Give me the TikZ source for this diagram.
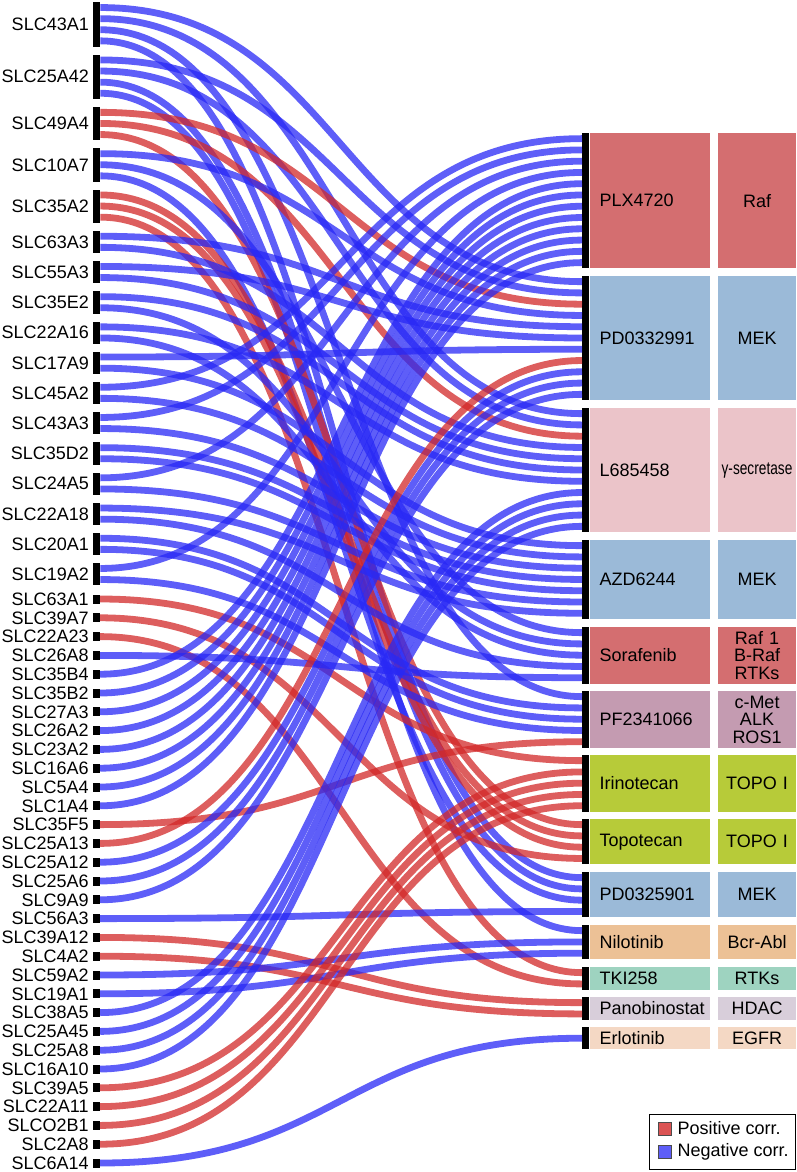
\documentclass[tikz,border=0pt]{standalone}
\usepackage{fontspec}
\usepackage{graphicx}
\setmainfont{Liberation Sans}
\usetikzlibrary{positioning}
\definecolor{rafred}{RGB}{212,110,112}
\definecolor{mekblue}{RGB}{155,186,216}
\definecolor{secpink}{RGB}{235,196,201}
\definecolor{metpurple}{RGB}{196,155,177}
\definecolor{topogreen}{RGB}{183,203,57}
\definecolor{ablorange}{RGB}{236,193,150}
\definecolor{rtkteal}{RGB}{158,211,192}
\definecolor{hdacgray}{RGB}{216,206,218}
\definecolor{egfrpeach}{RGB}{244,216,196}
\definecolor{posred}{RGB}{210,40,40}
\definecolor{negblue}{RGB}{40,40,245}
\tikzset{
  gbar/.style={fill=black, inner sep=0pt, minimum width=7pt, anchor=north west},
  sbar/.style={fill=black, inner sep=0pt, minimum width=7pt, minimum height=9pt},
  glab/.style={inner sep=0pt, font=\fontsize{18}{18}\selectfont},
  dbar/.style={fill=black, inner sep=0pt, minimum width=7pt, anchor=north west},
  dbox/.style={inner xsep=10pt, inner ysep=0pt, text width=100pt, align=left, font=\fontsize{18}{18}\selectfont},
  tbox/.style={inner xsep=1pt, inner ysep=0pt, text width=76pt, align=center, font=\fontsize{18}{17.5}\selectfont},
  link/.style={line width=6.8pt, out=0, in=180, distance=241pt},
  neglink/.style={link, draw=negblue, draw opacity=0.75},
  poslink/.style={link, draw=posred, draw opacity=0.75},
  keysq/.style={draw=black!70, line width=0.8pt, minimum size=13pt, inner sep=0pt}
}
\begin{document}
\begin{tikzpicture}[x=1pt, y=-1pt, label distance=4pt]
\useasboundingbox (0,0) rectangle (797,1172);

\node[gbar, minimum height=44.4pt, label={[glab]left:SLC43A1}] (slc43a1) at (93,2) {};
\node[gbar, minimum height=44.4pt, label={[glab]left:SLC25A42}] (slc25a42) at (93,54.4) {};
\node[gbar, minimum height=33.3pt, label={[glab]left:SLC49A4}] (slc49a4) at (93,106.8) {};
\node[gbar, minimum height=33.3pt, label={[glab]left:SLC10A7}] (slc10a7) at (93,148.1) {};
\node[gbar, minimum height=33.3pt, label={[glab]left:SLC35A2}] (slc35a2) at (93,189.4) {};
\node[gbar, minimum height=22.2pt, label={[glab]left:SLC63A3}] (slc63a3) at (93,230.7) {};
\node[gbar, minimum height=22.2pt, label={[glab]left:SLC55A3}] (slc55a3) at (93,260.9) {};
\node[gbar, minimum height=22.2pt, label={[glab]left:SLC35E2}] (slc35e2) at (93,291.1) {};
\node[gbar, minimum height=22.2pt, label={[glab]left:SLC22A16}] (slc22a16) at (93,321.3) {};
\node[gbar, minimum height=22.2pt, label={[glab]left:SLC17A9}] (slc17a9) at (93,351.5) {};
\node[gbar, minimum height=22.2pt, label={[glab]left:SLC45A2}] (slc45a2) at (93,381.7) {};
\node[gbar, minimum height=22.2pt, label={[glab]left:SLC43A3}] (slc43a3) at (93,411.9) {};
\node[gbar, minimum height=22.2pt, label={[glab]left:SLC35D2}] (slc35d2) at (93,442.1) {};
\node[gbar, minimum height=22.2pt, label={[glab]left:SLC24A5}] (slc24a5) at (93,472.3) {};
\node[gbar, minimum height=22.2pt, label={[glab]left:SLC22A18}] (slc22a18) at (93,502.5) {};
\node[gbar, minimum height=22.2pt, label={[glab]left:SLC20A1}] (slc20a1) at (93,532.7) {};
\node[gbar, minimum height=22.2pt, label={[glab]left:SLC19A2}] (slc19a2) at (93,562.9) {};

\node[sbar, label={[glab]left:SLC63A1}] (slc63a1) at (96.5,599.0) {};
\node[sbar, label={[glab]left:SLC39A7}] (slc39a7) at (96.5,617.8) {};
\node[sbar, label={[glab]left:SLC22A23}] (slc22a23) at (96.5,636.6) {};
\node[sbar, label={[glab]left:SLC26A8}] (slc26a8) at (96.5,655.4) {};
\node[sbar, label={[glab]left:SLC35B4}] (slc35b4) at (96.5,674.2) {};
\node[sbar, label={[glab]left:SLC35B2}] (slc35b2) at (96.5,693.0) {};
\node[sbar, label={[glab]left:SLC27A3}] (slc27a3) at (96.5,711.8) {};
\node[sbar, label={[glab]left:SLC26A2}] (slc26a2) at (96.5,730.6) {};
\node[sbar, label={[glab]left:SLC23A2}] (slc23a2) at (96.5,749.4) {};
\node[sbar, label={[glab]left:SLC16A6}] (slc16a6) at (96.5,768.2) {};
\node[sbar, label={[glab]left:SLC5A4}] (slc5a4) at (96.5,787.0) {};
\node[sbar, label={[glab]left:SLC1A4}] (slc1a4) at (96.5,805.8) {};
\node[sbar, label={[glab]left:SLC35F5}] (slc35f5) at (96.5,824.6) {};
\node[sbar, label={[glab]left:SLC25A13}] (slc25a13) at (96.5,843.4) {};
\node[sbar, label={[glab]left:SLC25A12}] (slc25a12) at (96.5,862.2) {};
\node[sbar, label={[glab]left:SLC25A6}] (slc25a6) at (96.5,881.0) {};
\node[sbar, label={[glab]left:SLC9A9}] (slc9a9) at (96.5,899.8) {};
\node[sbar, label={[glab]left:SLC56A3}] (slc56a3) at (96.5,918.6) {};
\node[sbar, label={[glab]left:SLC39A12}] (slc39a12) at (96.5,937.4) {};
\node[sbar, label={[glab]left:SLC4A2}] (slc4a2) at (96.5,956.2) {};
\node[sbar, label={[glab]left:SLC59A2}] (slc59a2) at (96.5,975.0) {};
\node[sbar, label={[glab]left:SLC19A1}] (slc19a1) at (96.5,993.8) {};
\node[sbar, label={[glab]left:SLC38A5}] (slc38a5) at (96.5,1012.6) {};
\node[sbar, label={[glab]left:SLC25A45}] (slc25a45) at (96.5,1031.4) {};
\node[sbar, label={[glab]left:SLC25A8}] (slc25a8) at (96.5,1050.2) {};
\node[sbar, label={[glab]left:SLC16A10}] (slc16a10) at (96.5,1069.0) {};
\node[sbar, label={[glab]left:SLC39A5}] (slc39a5) at (96.5,1087.8) {};
\node[sbar, label={[glab]left:SLC22A11}] (slc22a11) at (96.5,1106.6) {};
\node[sbar, label={[glab]left:SLCO2B1}] (slco2b1) at (96.5,1125.4) {};
\node[sbar, label={[glab]left:SLC2A8}] (slc2a8) at (96.5,1144.2) {};
\node[sbar, label={[glab]left:SLC6A14}] (slc6a14) at (96.5,1163.0) {};

\node[dbar, minimum height=135.2pt] (plx) at (582,133) {};
\node[dbox, fill=rafred, minimum height=135.2pt, right=0pt of plx] (plxbox) {PLX4720};
\node[tbox, fill=rafred, minimum height=135.2pt, right=8pt of plxbox] (plxtgt) {Raf};
\node[dbar, minimum height=124pt] (pd3) at (582,276) {};
\node[dbox, fill=mekblue, minimum height=124pt, right=0pt of pd3] (pd3box) {PD0332991};
\node[tbox, fill=mekblue, minimum height=124pt, right=8pt of pd3box] (pd3tgt) {MEK};
\node[dbar, minimum height=124pt] (lsec) at (582,408) {};
\node[dbox, fill=secpink, minimum height=124pt, right=0pt of lsec] (lsecbox) {L685458};
\node[tbox, fill=secpink, minimum height=124pt, right=8pt of lsecbox] (lsectgt) {\scalebox{0.76}[1]{γ-secretase}};
\node[dbar, minimum height=78.9pt] (azd) at (582,540) {};
\node[dbox, fill=mekblue, minimum height=78.9pt, right=0pt of azd] (azdbox) {AZD6244};
\node[tbox, fill=mekblue, minimum height=78.9pt, right=8pt of azdbox] (azdtgt) {MEK};
\node[dbar, minimum height=56.4pt] (sora) at (582,627) {};
\node[dbox, fill=rafred, minimum height=56.4pt, right=0pt of sora] (sorabox) {Sorafenib};
\node[tbox, fill=rafred, minimum height=56.4pt, right=8pt of sorabox] (soratgt) {Raf 1\\B-Raf\\RTKs};
\node[dbar, minimum height=56.4pt] (pfz) at (582,691) {};
\node[dbox, fill=metpurple, minimum height=56.4pt, right=0pt of pfz] (pfzbox) {PF2341066};
\node[tbox, fill=metpurple, minimum height=56.4pt, right=8pt of pfzbox] (pfztgt) {c-Met\\ALK\\ROS1};
\node[dbar, minimum height=56.4pt] (irino) at (582,755) {};
\node[dbox, fill=topogreen, minimum height=56.4pt, right=0pt of irino] (irinobox) {Irinotecan};
\node[tbox, fill=topogreen, minimum height=56.4pt, right=8pt of irinobox] (irinotgt) {TOPO I};
\node[dbar, minimum height=45.1pt] (topo) at (582,819) {};
\node[dbox, fill=topogreen, minimum height=45.1pt, right=0pt of topo] (topobox) {Topotecan};
\node[tbox, fill=topogreen, minimum height=45.1pt, right=8pt of topobox] (topotgt) {TOPO I};
\node[dbar, minimum height=45.1pt] (pd5) at (582,872) {};
\node[dbox, fill=mekblue, minimum height=45.1pt, right=0pt of pd5] (pd5box) {PD0325901};
\node[tbox, fill=mekblue, minimum height=45.1pt, right=8pt of pd5box] (pd5tgt) {MEK};
\node[dbar, minimum height=33.8pt] (nilo) at (582,925) {};
\node[dbox, fill=ablorange, minimum height=33.8pt, right=0pt of nilo] (nilobox) {Nilotinib};
\node[tbox, fill=ablorange, minimum height=33.8pt, right=8pt of nilobox] (nilotgt) {Bcr-Abl};
\node[dbar, minimum height=22.5pt] (tki) at (582,967) {};
\node[dbox, fill=rtkteal, minimum height=22.5pt, right=0pt of tki] (tkibox) {TKI258};
\node[tbox, fill=rtkteal, minimum height=22.5pt, right=8pt of tkibox] (tkitgt) {RTKs};
\node[dbar, minimum height=22.5pt] (pano) at (582,997) {};
\node[dbox, fill=hdacgray, minimum height=22.5pt, right=0pt of pano] (panobox) {Panobinostat};
\node[tbox, fill=hdacgray, minimum height=22.5pt, right=8pt of panobox] (panotgt) {HDAC};
\node[dbar, minimum height=22pt] (erlo) at (582,1027) {};
\node[dbox, fill=egfrpeach, minimum height=22pt, right=0pt of erlo] (erlobox) {Erlotinib};
\node[tbox, fill=egfrpeach, minimum height=22pt, right=8pt of erlobox] (erlotgt) {EGFR};

\foreach \g/\n in {slc43a1/4, slc25a42/4, slc49a4/3, slc10a7/3, slc35a2/3, slc63a3/2, slc55a3/2, slc35e2/2, slc22a16/2, slc17a9/2, slc45a2/2, slc43a3/2, slc35d2/2, slc24a5/2, slc22a18/2, slc20a1/2, slc19a2/2}
  \foreach \k in {1,...,\n}
    \coordinate (\g-\k) at ([yshift=-5.55pt-(\k-1)*11.1pt]\g.north east);
\foreach \d/\n in {plx/12, pd3/11, lsec/11, azd/7, sora/5, pfz/5, irino/5, topo/4, pd5/4, nilo/3, tki/2, pano/2}
  \foreach \k in {1,...,\n}
    \coordinate (\d-\k) at ([yshift=-5.64pt-(\k-1)*11.27pt]\d.north west);
\coordinate (erlo-1) at (erlo.west);

\draw[neglink] (slc43a1-1) to (pd3-1);
\draw[neglink] (slc43a1-2) to (lsec-1);
\draw[neglink] (slc43a1-3) to (pfz-1);
\draw[neglink] (slc43a1-4) to (pd5-1);
\draw[neglink] (slc25a42-1) to (pd3-2);
\draw[neglink] (slc25a42-2) to (lsec-2);
\draw[neglink] (slc25a42-3) to (pd5-2);
\draw[neglink] (slc25a42-4) to (nilo-1);
\draw[poslink] (slc49a4-1) to (pd3-3);
\draw[poslink] (slc49a4-2) to (lsec-3);
\draw[poslink] (slc49a4-3) to (topo-1);
\draw[neglink] (slc10a7-1) to (pd3-4);
\draw[neglink] (slc10a7-2) to (sora-1);
\draw[neglink] (slc10a7-3) to (pd5-3);
\draw[poslink] (slc35a2-1) to (topo-2);
\draw[poslink] (slc35a2-2) to (topo-3);
\draw[poslink] (slc35a2-3) to (tki-1);
\draw[neglink] (slc63a3-1) to (pd3-5);
\draw[neglink] (slc63a3-2) to (lsec-4);
\draw[neglink] (slc55a3-1) to (pd3-6);
\draw[neglink] (slc55a3-2) to (lsec-5);
\draw[neglink] (slc35e2-1) to (lsec-6);
\draw[neglink] (slc35e2-2) to (sora-2);
\draw[neglink] (slc22a16-1) to (lsec-7);
\draw[neglink] (slc22a16-2) to (sora-3);
\draw[neglink] (slc17a9-1) to (pd3-7);
\draw[neglink] (slc17a9-2) to (azd-1);
\draw[neglink] (slc45a2-1) to (plx-1);
\draw[neglink] (slc45a2-2) to (azd-2);
\draw[neglink] (slc43a3-1) to (plx-2);
\draw[neglink] (slc43a3-2) to (azd-3);
\draw[neglink] (slc35d2-1) to (azd-4);
\draw[neglink] (slc35d2-2) to (azd-5);
\draw[neglink] (slc24a5-1) to (plx-3);
\draw[neglink] (slc24a5-2) to (azd-6);
\draw[neglink] (slc22a18-1) to (azd-7);
\draw[neglink] (slc22a18-2) to (sora-4);
\draw[neglink] (slc20a1-1) to (pfz-2);
\draw[neglink] (slc20a1-2) to (pfz-3);
\draw[neglink] (slc19a2-1) to (plx-4);
\draw[neglink] (slc19a2-2) to (pfz-4);
\draw[poslink] (slc63a1.east) to (irino-1);
\draw[poslink] (slc39a7.east) to (topo-4);
\draw[poslink] (slc22a23.east) to (tki-2);
\draw[neglink] (slc26a8.east) to (sora-5);
\draw[neglink] (slc35b4.east) to (plx-5);
\draw[neglink] (slc35b2.east) to (plx-6);
\draw[neglink] (slc27a3.east) to (plx-7);
\draw[neglink] (slc26a2.east) to (plx-8);
\draw[neglink] (slc23a2.east) to (plx-9);
\draw[neglink] (slc16a6.east) to (plx-10);
\draw[neglink] (slc5a4.east) to (plx-11);
\draw[neglink] (slc1a4.east) to (plx-12);
\draw[poslink] (slc35f5.east) to (pfz-5);
\draw[poslink] (slc25a13.east) to (pd3-8);
\draw[neglink] (slc25a12.east) to (pd3-9);
\draw[neglink] (slc25a6.east) to (pd3-10);
\draw[neglink] (slc9a9.east) to (pd3-11);
\draw[neglink] (slc56a3.east) to (pd5-4);
\draw[poslink] (slc39a12.east) to (pano-1);
\draw[poslink] (slc4a2.east) to (pano-2);
\draw[neglink] (slc59a2.east) to (nilo-2);
\draw[neglink] (slc19a1.east) to (nilo-3);
\draw[neglink] (slc38a5.east) to (lsec-8);
\draw[neglink] (slc25a45.east) to (lsec-9);
\draw[neglink] (slc25a8.east) to (lsec-10);
\draw[neglink] (slc16a10.east) to (lsec-11);
\draw[poslink] (slc39a5.east) to (irino-2);
\draw[poslink] (slc22a11.east) to (irino-3);
\draw[poslink] (slco2b1.east) to (irino-4);
\draw[poslink] (slc2a8.east) to (irino-5);
\draw[neglink] (slc6a14.east) to (erlo-1);

\node[draw=black, line width=1.3pt, fill=white, anchor=north west, minimum width=146pt, minimum height=55pt] (legend) at (649,1114) {};
\node[keysq, fill=posred!80] (keypos) at (664.5,1128.5) {};
\node[glab, right=6pt of keypos] (keypostxt) {Positive corr.};
\node[keysq, fill=negblue!75] (keyneg) at (664.5,1151.5) {};
\node[glab, right=6pt of keyneg] (keynegtxt) {Negative corr.};
\end{tikzpicture}
\end{document}
